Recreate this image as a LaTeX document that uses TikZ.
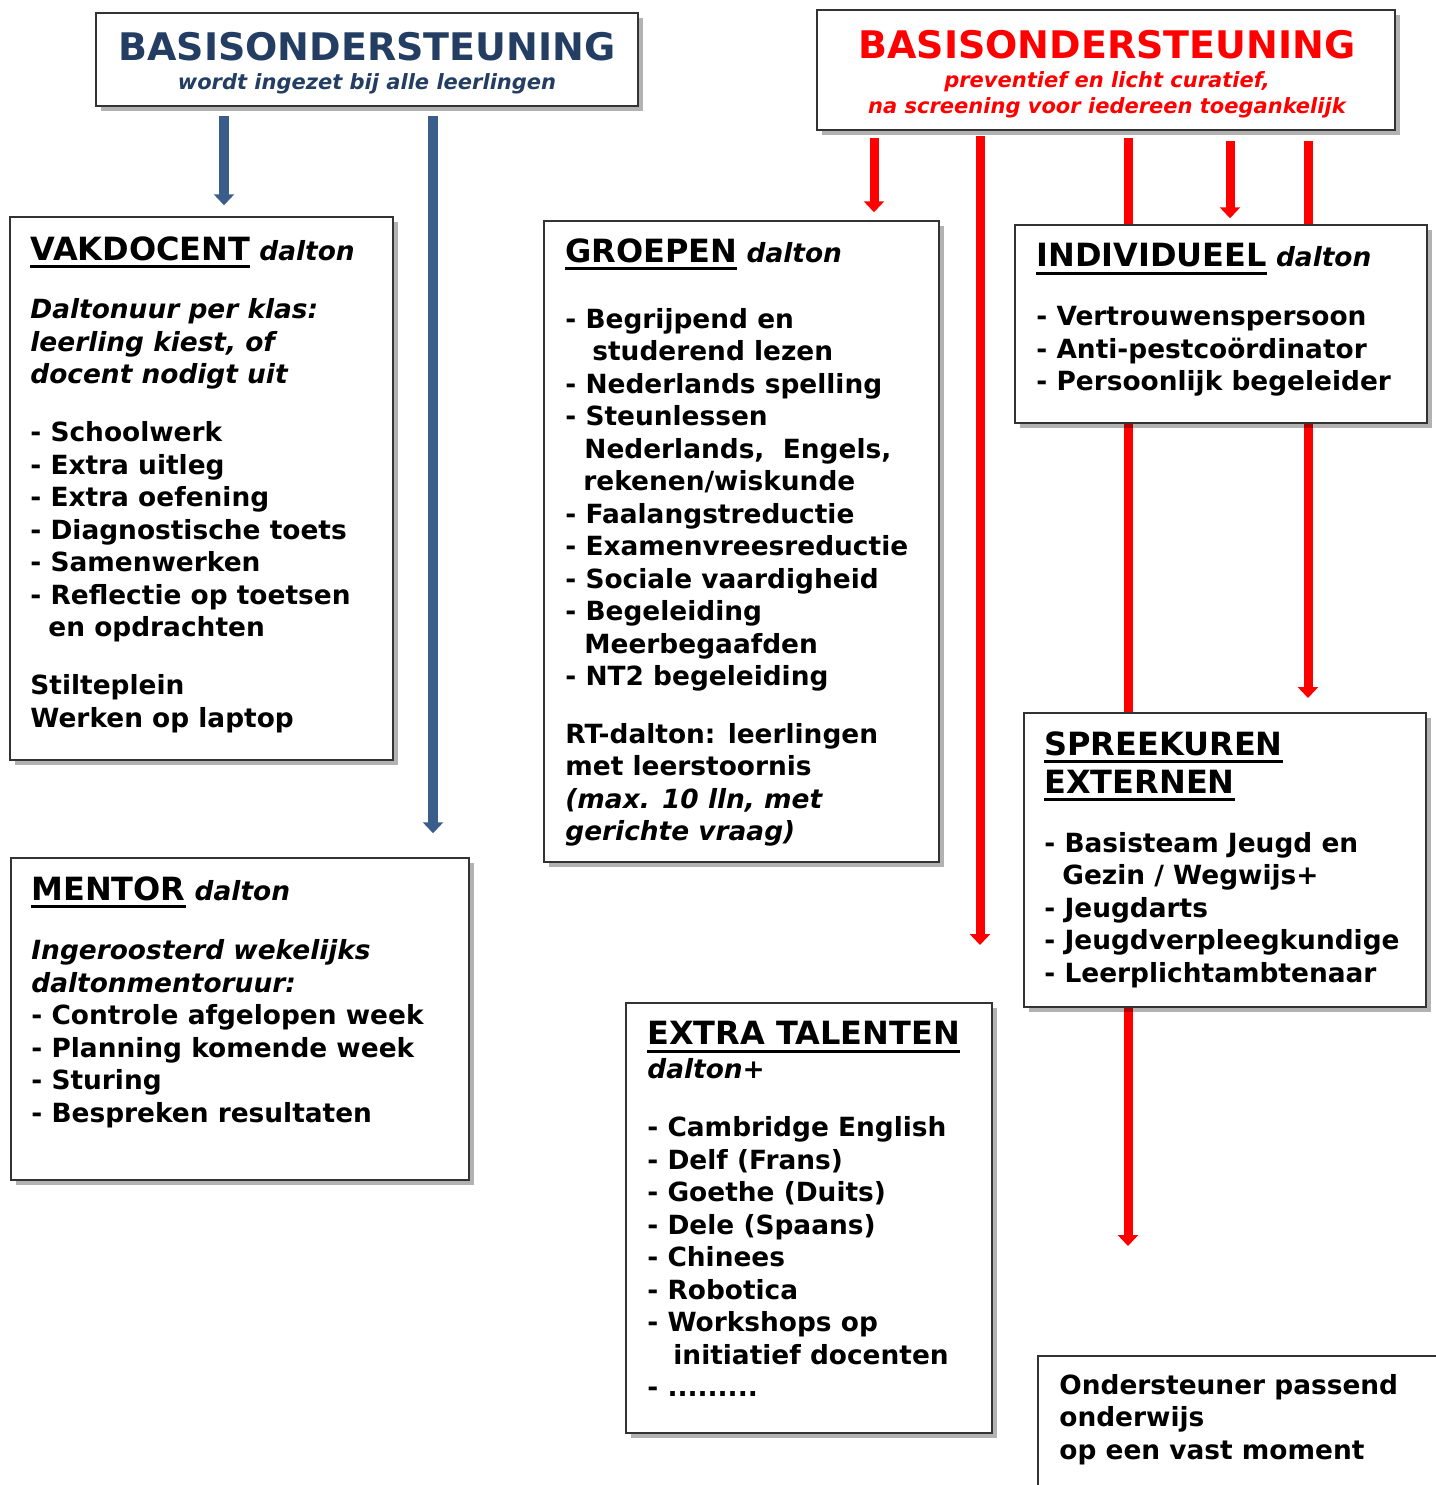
\documentclass[tikz,border=0pt]{standalone}
\usepackage{fontspec}
\setmainfont{DejaVu Sans}
\usetikzlibrary{arrows.meta,fit,shadows,backgrounds}

\definecolor{titleblue}{HTML}{233E62}
\definecolor{arrowblue}{HTML}{3A5D8C}
\definecolor{signalred}{HTML}{FF0000}

\newcommand{\ulhead}[1]{\setbox0=\hbox{#1}\rlap{\rule[-4pt]{\wd0}{1.5pt}}\box0\relax}
\newcommand{\headfont}{\fontsize{16}{20}\selectfont}

\tikzset{
  box/.style={draw=black!80, line width=0.75pt, fill=white, inner sep=0pt,
    drop shadow={shadow xshift=2.5pt, shadow yshift=-2.5pt, fill=black, opacity=0.3}},
  boxtext/.style={anchor=north west, inner sep=0pt, align=left,
    font=\fontsize{13.2}{16.25}\selectfont\bfseries},
  toptext/.style={anchor=north, inner sep=0pt, align=center},
  bluearrow/.style={draw=arrowblue, line width=5pt, -{Triangle[width=10pt,length=5.5pt]}},
  redarrow/.style={draw=signalred, line width=4.5pt, -{Triangle[width=10pt,length=5.5pt]}}
}

\begin{document}
\begin{tikzpicture}[x=0.5pt, y=-0.5pt]
  \useasboundingbox (0,0) rectangle (1436,1485);
  % Place boxes
  \node[box, fit={(96,13) (638,106)}] (bluetop) {};
  \node[box, fit={(817,10) (1395,130)}] (redtop) {};
  \node[box, fit={(10,217) (393,760)}] (vak) {};
  \node[box, fit={(544,221) (939,862)}] (groep) {};
  \node[box, fit={(1015,225) (1427,423)}] (indiv) {};
  \node[box, fit={(11,858) (469,1180)}] (mentor) {};
  \node[box, fit={(1024,713) (1426,1007)}] (spreek) {};
  \node[box, fit={(626,1003) (992,1433)}] (extra) {};
  \node[box, fit={(1038,1356) (1470,1520)}] (onder) {};

  % Place texts
  \node[toptext, text=titleblue, font=\fontsize{10.5}{14.5}\selectfont\bfseries] (bluetitle) at (367,32)
    {{\fontsize{19}{22}\selectfont BASISONDERSTEUNING}\\
     {\itshape wordt ingezet bij alle leerlingen}};
  \node[toptext, text=signalred, font=\fontsize{10.5}{13.25}\selectfont\bfseries] (redtitle) at (1107,30)
    {{\fontsize{19}{22}\selectfont BASISONDERSTEUNING}\\[1pt]
     {\itshape preventief en licht curatief,}\\
     {\itshape na screening voor iedereen toegankelijk}};

  \node[boxtext] (vaktxt) at (30,236)
    {\ulhead{\headfont VAKDOCENT} {\itshape dalton}\\[13pt]
     {\itshape Daltonuur per klas:}\\
     {\itshape leerling kiest, of}\\
     {\itshape docent nodigt uit}\\[12.75pt]
     - Schoolwerk\\
     - Extra uitleg\\
     - Extra oefening\\
     - Diagnostische toets\\
     - Samenwerken\\
     - Reflectie op toetsen\\
     \hspace*{9pt}en opdrachten\\[12.75pt]
     Stilteplein\\
     Werken op laptop};

  \node[boxtext] (groeptxt) at (565,238)
    {\ulhead{\headfont GROEPEN} {\itshape dalton}\\[16.75pt]
     - Begrijpend en\\
     \hspace*{13.5pt}studerend lezen\\
     - Nederlands spelling\\
     - Steunlessen\\
     \hspace*{9.5pt}Nederlands,\ \ Engels,\\
     \hspace*{9pt}rekenen/wiskunde\\
     - Faalangstreductie\\
     - Examenvreesreductie\\
     - Sociale vaardigheid\\
     - Begeleiding\\
     \hspace*{9.5pt}Meerbegaafden\\
     - NT2 begeleiding\\[12.5pt]
     RT-dalton: leerlingen\\
     met leerstoornis\\
     {\itshape (max. 10 lln, met}\\
     {\itshape gerichte vraag)}};

  \node[boxtext] (indivtxt) at (1036,243)
    {\ulhead{\headfont INDIVIDUEEL} {\itshape dalton}\\[13.25pt]
     - Vertrouwenspersoon\\
     - Anti-pestcoördinator\\
     - Persoonlijk begeleider};

  \node[boxtext] (mentortxt) at (31,876)
    {\ulhead{\headfont MENTOR} {\itshape dalton}\\[13.5pt]
     {\itshape Ingeroosterd wekelijks}\\
     {\itshape daltonmentoruur:}\\
     - Controle afgelopen week\\
     - Planning komende week\\
     - Sturing\\
     - Bespreken resultaten};

  \node[boxtext] (spreektxt) at (1044,731)
    {\ulhead{\headfont SPREEKUREN}\\[2.75pt]
     \ulhead{\headfont EXTERNEN}\\[13.25pt]
     - Basisteam Jeugd en\\
     \hspace*{9pt}Gezin / Wegwijs+\\
     - Jeugdarts\\
     - Jeugdverpleegkundige\\
     - Leerplichtambtenaar};

  \node[boxtext] (extratxt) at (647,1021)
    {\ulhead{\headfont EXTRA TALENTEN}\\[0.75pt]
     {\itshape dalton+}\\[12.75pt]
     - Cambridge English\\
     - Delf (Frans)\\
     - Goethe (Duits)\\
     - Dele (Spaans)\\
     - Chinees\\
     - Robotica\\
     - Workshops op\\
     \hspace*{13pt}initiatief docenten\\
     - .........};

  \node[boxtext] (ondertxt) at (1059,1374)
    {Ondersteuner passend\\
     onderwijs\\
     op een vast moment};

  % Draw edges
  \coordinate (bx1) at (224,0);
  \coordinate (bx2) at (433,0);
  \coordinate (rx1) at (874,0);
  \coordinate (rx2) at (980,0);
  \coordinate (rx3) at (1128,0);
  \coordinate (rx4) at (1230,0);
  \coordinate (rx5) at (1308,0);
  \coordinate (rend2) at (980,945);
  \coordinate (rend3) at (1128,1246);
  \coordinate (rend5) at (1308,698);
  \begin{scope}[on background layer]
    \draw[bluearrow, shorten <=4.5pt, shorten >=5.5pt] (bluetop.south -| bx1) -- (vak.north -| bx1);
    \draw[bluearrow, shorten <=4.5pt, shorten >=12pt] (bluetop.south -| bx2) -- (mentor.north -| bx2);
    \draw[redarrow, shorten <=3.5pt, shorten >=4pt] (redtop.south -| rx1) -- (groep.north -| rx1);
    \draw[redarrow, shorten <=2.5pt] (redtop.south -| rx2) -- (rend2);
    \draw[redarrow, shorten <=3.5pt] (redtop.south -| rx3) -- (rend3);
    \draw[redarrow, shorten <=5pt, shorten >=3pt] (redtop.south -| rx4) -- (indiv.north -| rx4);
    \draw[redarrow, shorten <=5pt] (redtop.south -| rx5) -- (rend5);
  \end{scope}
\end{tikzpicture}
\end{document}
